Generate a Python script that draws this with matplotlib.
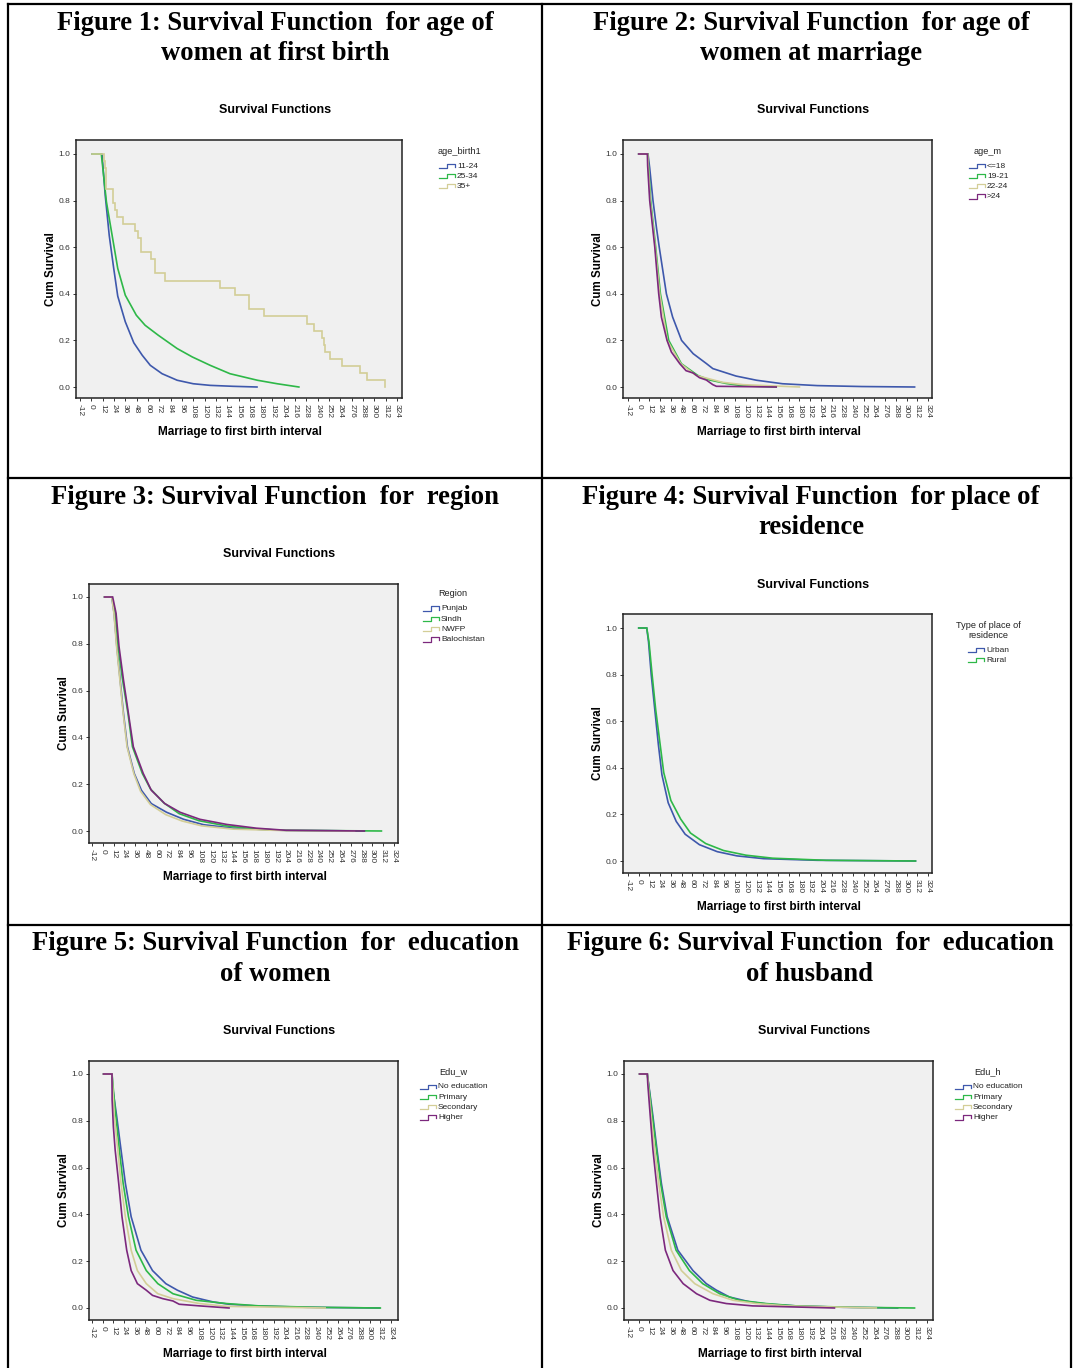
import numpy as np
import matplotlib
matplotlib.use('Agg')
import matplotlib.pyplot as plt
from matplotlib.lines import Line2D

W, H = 1073, 1368

# colours used by SPSS survival plots
C_BLUE, C_GREEN, C_TAN, C_PURPLE = '#3e58ac', '#2eb848', '#d3ce97', '#7c287d'

# ---- Figure 1: age of women at first birth
p1_labels = ['11-24', '25-34', '35+']
p1_t_a = [1, 11.3, 14.8, 19, 23.7, 28, 36, 45, 54, 62.5, 75, 91, 108, 126, 150, 175.6]
p1_s_a = [1, 1, 0.82, 0.65, 0.51, 0.39, 0.28, 0.19, 0.136, 0.093, 0.057, 0.029, 0.014, 0.007, 0.003, 0.0]
p1_t_b = [1, 10.6, 16, 22, 28, 36, 47.7, 57, 71, 91, 107, 126, 147, 176, 197, 220]
p1_s_b = [1, 1, 0.795, 0.652, 0.509, 0.394, 0.308, 0.265, 0.222, 0.165, 0.129, 0.093, 0.057, 0.029, 0.014, 0.0]
p1_t_c = [1, 13, 14.5, 16, 23, 25, 27, 33.6, 46.6, 49, 53, 63.6, 68, 78.4, 136, 152, 167, 182.7,
          229, 235.7, 244, 246.5, 248, 252.7, 265.7, 284.5, 292, 311]
p1_s_c = [1, 0.97, 0.94, 0.85, 0.79, 0.76, 0.73, 0.70, 0.67, 0.64, 0.58, 0.55, 0.49, 0.455, 0.425,
          0.395, 0.335, 0.305, 0.27, 0.24, 0.21, 0.18, 0.15, 0.12, 0.09, 0.06, 0.03, 0.0]

# ---- Figure 2: age of women at marriage
p2_labels = ['<=18', '19-21', '22-24', '>24']
p2_t_a = [0, 10.4, 12.3, 16, 20, 23, 27, 31, 38, 48, 61, 76, 83, 109, 132, 161, 200, 250, 309]
p2_s_a = [1, 1, 0.94, 0.8, 0.68, 0.6, 0.5, 0.4, 0.3, 0.2, 0.143, 0.1, 0.079, 0.047, 0.029, 0.014, 0.006, 0.002, 0.0]
p2_t_b = [0, 10.2, 13.4, 19, 24.3, 33.6, 47.8, 66, 79.5, 98, 117, 154]
p2_s_b = [1, 1, 0.8, 0.6, 0.4, 0.2, 0.1, 0.05, 0.03, 0.015, 0.005, 0.0]
p2_t_c = [0, 10, 12.8, 18.5, 23.5, 32, 47, 64, 94, 117, 180]
p2_s_c = [1, 1, 0.8, 0.6, 0.4, 0.2, 0.1, 0.05, 0.02, 0.01, 0.0]
p2_t_d = [0, 9.7, 10, 12.3, 18, 22.4, 25.4, 31.7, 36.6, 46, 53, 61, 68, 75.7, 83, 87, 154]
p2_s_d = [1, 1, 0.95, 0.8, 0.6, 0.4, 0.3, 0.2, 0.15, 0.1, 0.07, 0.06, 0.04, 0.03, 0.01, 0.003, 0.0]

# ---- Figure 3: region
p3_labels = ['Punjab', 'Sindh', 'NWFP', 'Balochistan']
p3_t_a = [2, 10, 12.6, 15.6, 19.3, 23, 27.4, 35, 43, 54, 71, 90, 112, 145, 200, 291]
p3_s_a = [1, 1, 0.93, 0.79, 0.646, 0.503, 0.36, 0.246, 0.174, 0.117, 0.08, 0.05, 0.027, 0.012, 0.003, 0.0]
p3_t_b = [2, 10, 14, 17, 22, 28, 33, 44, 53, 68, 85, 107, 137, 170, 204, 310]
p3_s_b = [1, 1, 0.93, 0.79, 0.646, 0.503, 0.36, 0.246, 0.18, 0.12, 0.074, 0.044, 0.022, 0.008, 0.003, 0.0]
p3_t_c = [2, 10, 12.4, 15.3, 19, 22.7, 27, 34.5, 42, 53, 70, 88, 110, 145, 200, 280]
p3_s_c = [1, 1, 0.93, 0.79, 0.646, 0.503, 0.36, 0.246, 0.17, 0.113, 0.07, 0.043, 0.022, 0.008, 0.002, 0.0]
p3_t_d = [2, 11, 14.8, 18, 23, 28.5, 34, 45, 54, 69, 86, 108, 138, 171, 204, 291]
p3_s_d = [1, 1, 0.93, 0.79, 0.646, 0.503, 0.36, 0.246, 0.174, 0.117, 0.08, 0.05, 0.028, 0.012, 0.003, 0.0]

# ---- Figure 4: place of residence
p4_labels = ['Urban', 'Rural']
p4_t_a = [0, 9, 11, 14, 18, 22, 26, 33, 42, 52, 68, 88, 110, 140, 200, 310]
p4_s_a = [1, 1, 0.94, 0.8, 0.65, 0.5, 0.37, 0.25, 0.17, 0.115, 0.07, 0.04, 0.022, 0.01, 0.003, 0.0]
p4_t_b = [0, 9, 11.5, 15, 19, 24, 28, 36, 47, 58, 75, 95, 120, 150, 210, 310]
p4_s_b = [1, 1, 0.94, 0.8, 0.65, 0.5, 0.38, 0.26, 0.18, 0.12, 0.075, 0.045, 0.025, 0.012, 0.003, 0.0]

# ---- Figure 5: education of women
p5_labels = ['No education', 'Primary', 'Secondary', 'Higher']
p5_t_a = [1, 10.5, 11.3, 15.7, 20.6, 25.5, 32, 43, 56, 71, 84, 101, 124, 142, 172, 230, 311]
p5_s_a = [1, 1, 0.94, 0.82, 0.676, 0.533, 0.39, 0.247, 0.16, 0.104, 0.076, 0.047, 0.026, 0.016, 0.009, 0.003, 0.0]
p5_t_b = [1, 10.5, 13, 18.7, 23, 29, 37.5, 49, 62, 79, 105, 139, 176, 240, 312]
p5_s_b = [1, 1, 0.89, 0.676, 0.533, 0.39, 0.247, 0.16, 0.104, 0.061, 0.033, 0.019, 0.009, 0.003, 0.0]
p5_t_c = [1, 10.5, 13, 17, 20.6, 25.5, 32, 39, 49, 62, 79, 109, 140, 250]
p5_s_c = [1, 1, 0.82, 0.676, 0.533, 0.39, 0.247, 0.16, 0.104, 0.061, 0.04, 0.019, 0.007, 0.0]
p5_t_d = [1, 10.5, 10.6, 12, 14, 18, 21.7, 27, 32, 39, 49, 56, 67.5, 79, 86, 109, 142]
p5_s_d = [1, 1, 0.89, 0.776, 0.676, 0.533, 0.39, 0.247, 0.16, 0.104, 0.076, 0.054, 0.04, 0.03, 0.016, 0.009, 0.0]

# ---- Figure 6: education of husband
p6_labels = ['No education', 'Primary', 'Secondary', 'Higher']
p6_t_a = [1, 9.7, 16, 20.6, 25.5, 32, 44, 61, 76, 87, 102, 125, 147, 177, 230, 291]
p6_s_a = [1, 1, 0.82, 0.676, 0.533, 0.39, 0.247, 0.16, 0.104, 0.077, 0.047, 0.026, 0.016, 0.009, 0.003, 0.0]
p6_t_b = [1, 9.7, 15.4, 20, 24.7, 31, 42, 57, 72, 91, 113, 143, 177, 240, 310]
p6_s_b = [1, 1, 0.82, 0.676, 0.533, 0.39, 0.247, 0.16, 0.104, 0.061, 0.033, 0.019, 0.009, 0.003, 0.0]
p6_t_c = [1, 9.7, 14, 18, 22.5, 28, 36.7, 48, 63, 83.5, 106, 132, 166, 267]
p6_s_c = [1, 1, 0.82, 0.676, 0.533, 0.39, 0.247, 0.16, 0.104, 0.061, 0.033, 0.019, 0.009, 0.0]
p6_t_d = [1, 9.7, 10.2, 13, 16, 20, 24, 30, 38.6, 50, 65, 80, 98.5, 128, 220]
p6_s_d = [1, 1, 0.96, 0.82, 0.676, 0.533, 0.39, 0.247, 0.16, 0.104, 0.061, 0.033, 0.019, 0.009, 0.0]

xticks = np.arange(-12, 325, 12)
yticks = [0.0, 0.2, 0.4, 0.6, 0.8, 1.0]

fig = plt.figure(figsize=(W / 100, H / 100), dpi=100)
fig.patch.set_facecolor('white')


def fx(x):
    return x / W


def fy(y):
    return 1 - y / H


SERIF = 'Liberation Serif'
SANS = 'Liberation Sans'

# table grid
for x in (8, 542, 1071):
    fig.add_artist(Line2D([fx(x), fx(x)], [fy(4), fy(1368)], color='black', lw=1.6))
for y in (4, 478, 925):
    fig.add_artist(Line2D([fx(8), fx(1071)], [fy(y), fy(y)], color='black', lw=1.6))


def panel(title_lines, title_x, title_y, sub_y, box, xanch, yanch, series, labels,
          leg_title, leg_x, leg_y, leg_handle_x, step=None):
    L, T, R, B = box
    for i, line in enumerate(title_lines):
        fig.text(fx(title_x), fy(title_y + 30.5 * i), line, ha='center', va='center',
                 family=SERIF, weight='bold', fontsize=19.2)
    fig.text(fx((L + R) / 2 + 36), fy(sub_y), 'Survival Functions', ha='center', va='center',
             family=SANS, weight='bold', fontsize=9.0)
    ax = fig.add_axes([fx(L), fy(B), (R - L) / W, (B - T) / H])
    ax.set_facecolor('#f0f0f0')
    xm12, x324 = xanch
    ppx = (x324 - xm12) / 336
    ax.set_xlim(-12 - (xm12 - L) / ppx, 324 + (R - x324) / ppx)
    y1, y0 = yanch
    ppy = y0 - y1
    ax.set_ylim(-(B - y0) / ppy, 1 + (y1 - T) / ppy)
    for j, (t, s, c) in enumerate(series):
        ds = 'steps-post' if step == j else 'default'
        ax.plot(t, s, color=c, lw=1.2, drawstyle=ds, solid_joinstyle='miter')
    ax.set_xticks(xticks)
    ax.set_xticklabels([str(v) for v in xticks], rotation=-90, family=SANS, fontsize=6.0, color='#333333')
    ax.set_yticks(yticks)
    ax.set_yticklabels(['%.1f' % v for v in yticks], family=SANS, fontsize=6.0, color='#333333')
    ax.tick_params(axis='both', direction='out', length=2.5, width=0.7, pad=1.5, color='#333333')
    for sp in ax.spines.values():
        sp.set_color('#222222')
        sp.set_linewidth(1.1)
    fig.text(fx(L - 25), fy((T + B) / 2), 'Cum Survival', rotation=90, ha='center', va='center',
             family=SANS, weight='bold', fontsize=8.3)
    fig.text(fx((L + R) / 2 + 1), fy(B + 34), 'Marriage to first birth interval', ha='center',
             va='center', family=SANS, weight='bold', fontsize=8.5)
    # legend drawn by hand to get the SPSS step icons
    tl = leg_title.split('\n')
    for k, line in enumerate(tl):
        fig.text(fx(leg_x), fy(leg_y + 10 * k), line, ha='center', va='center',
                 family=SANS, fontsize=6.6, color='#222222')
    y = leg_y + 10 * (len(tl) - 1) + 15
    for (t, s, c), lab in zip(series, labels):
        hx = leg_handle_x
        xs = [hx, hx + 8, hx + 8, hx + 16, hx + 16]
        ys = [y + 2, y + 2, y - 2.5, y - 2.5, y + 0.5]
        fig.add_artist(Line2D([fx(v) for v in xs], [fy(v) for v in ys], color=c, lw=0.9))
        fig.text(fx(hx + 18), fy(y), lab, ha='left', va='center', family=SANS, fontsize=6.0,
                 color='#222222')
        y += 10.2
    return ax


panel(['Figure 1: Survival Function  for age of', 'women at first birth'], 275, 23, 110,
      (76, 140, 402, 398), (80, 397), (154, 387),
      [(p1_t_a, p1_s_a, C_BLUE), (p1_t_b, p1_s_b, C_GREEN), (p1_t_c, p1_s_c, C_TAN)], p1_labels,
      'age_birth1', 460, 151, 439, step=2)

panel(['Figure 2: Survival Function  for age of', 'women at marriage'], 811, 23, 110,
      (623, 140, 932, 398), (628, 928), (154, 387),
      [(p2_t_a, p2_s_a, C_BLUE), (p2_t_b, p2_s_b, C_GREEN), (p2_t_c, p2_s_c, C_TAN),
       (p2_t_d, p2_s_d, C_PURPLE)], p2_labels,
      'age_m', 988, 151, 969)

panel(['Figure 3: Survival Function  for  region'], 275, 497, 554,
      (89, 584, 398, 843), (92, 394), (597, 831),
      [(p3_t_a, p3_s_a, C_BLUE), (p3_t_b, p3_s_b, C_GREEN), (p3_t_c, p3_s_c, C_TAN),
       (p3_t_d, p3_s_d, C_PURPLE)], p3_labels,
      'Region', 453, 594, 423)

panel(['Figure 4: Survival Function  for place of', 'residence'], 811, 497, 585,
      (623, 614, 932, 873), (628, 928), (628, 861),
      [(p4_t_a, p4_s_a, C_BLUE), (p4_t_b, p4_s_b, C_GREEN)], p4_labels,
      'Type of place of\nresidence', 988, 625, 968)

panel(['Figure 5: Survival Function  for  education', 'of women'], 275, 944, 1031,
      (89, 1061, 398, 1320), (92, 391), (1074, 1308),
      [(p5_t_a, p5_s_a, C_BLUE), (p5_t_b, p5_s_b, C_GREEN), (p5_t_c, p5_s_c, C_TAN),
       (p5_t_d, p5_s_d, C_PURPLE)], p5_labels,
      'Edu_w', 453, 1072, 420)

panel(['Figure 6: Survival Function  for  education', 'of husband'], 810, 944, 1031,
      (624, 1061, 933, 1320), (628, 927), (1074, 1308),
      [(p6_t_a, p6_s_a, C_BLUE), (p6_t_b, p6_s_b, C_GREEN), (p6_t_c, p6_s_c, C_TAN),
       (p6_t_d, p6_s_d, C_PURPLE)], p6_labels,
      'Edu_h', 988, 1072, 955)

fig.savefig('out.png', dpi=100, facecolor='white')
